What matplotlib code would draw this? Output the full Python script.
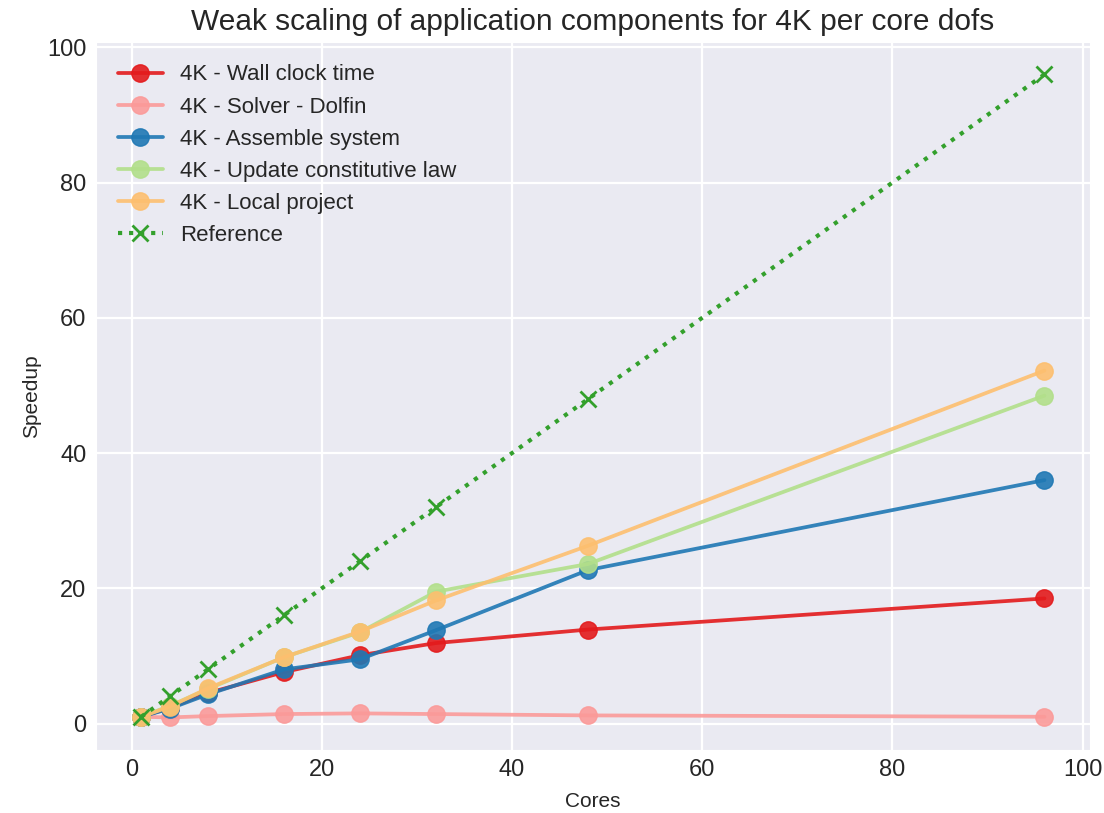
import matplotlib
matplotlib.use("Agg")
import matplotlib.pyplot as plt
import seaborn as sns

sns.set_style("darkgrid")
plt.rcParams['font.family'] = ['Arial', 'Liberation Sans', 'DejaVu Sans']
plt.rcParams['grid.linewidth'] = 1.6

cores = [1, 4, 8, 16, 24, 32, 48, 96]

wall_clock = [1.0, 2.3, 4.5, 7.6, 10.1, 11.9, 13.9, 18.5]
solver = [1.0, 0.9, 1.1, 1.4, 1.5, 1.4, 1.2, 1.0]
assemble = [1.0, 2.2, 4.3, 8.0, 9.5, 13.8, 22.7, 36.0]
update_law = [1.0, 2.6, 5.1, 9.8, 13.5, 19.5, 23.6, 48.5]
local_project = [1.0, 2.5, 5.2, 9.8, 13.6, 18.2, 26.3, 52.2]
reference = [1, 4, 8, 16, 24, 32, 48, 96]

pal = sns.color_palette("Paired")

fig, ax = plt.subplots(figsize=(11.04, 8.13), dpi=100)
kw = dict(marker='o', markersize=12.5, linewidth=2.7, alpha=0.9)
ax.plot(cores, wall_clock, color=pal[5], label='4K - Wall clock time', **kw)
ax.plot(cores, solver, color=pal[4], label='4K - Solver - Dolfin', **kw)
ax.plot(cores, assemble, color=pal[1], label='4K - Assemble system', **kw)
ax.plot(cores, update_law, color=pal[2], label='4K - Update constitutive law', **kw)
ax.plot(cores, local_project, color=pal[6], label='4K - Local project', **kw)
ax.plot(cores, reference, color=pal[3], linestyle=':', linewidth=3, marker='x',
        markersize=12, markeredgewidth=2, label='Reference')

ax.set_title('Weak scaling of application components for 4K per core dofs', fontsize=21.5, pad=9)
ax.set_xlabel('Cores', fontsize=15, labelpad=8)
ax.set_ylabel('Speedup', fontsize=15)
ax.tick_params(labelsize=17)
ax.legend(loc='upper left', fontsize=16, frameon=False, handlelength=2.0,
          labelspacing=0.5, borderaxespad=0.6)

plt.subplots_adjust(left=0.087, right=0.987, top=0.948, bottom=0.078)
plt.savefig('out.png', dpi=100)
